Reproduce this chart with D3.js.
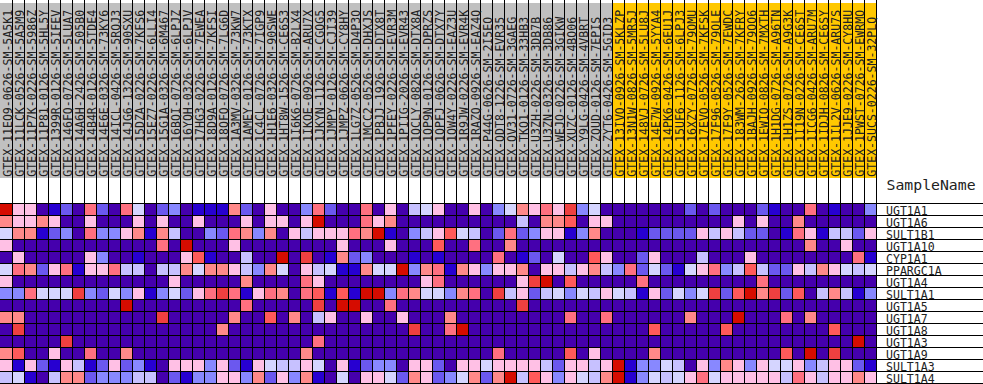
<!DOCTYPE html>
<html>
<head>
<meta charset="utf-8">
<script src="https://cdn.jsdelivr.net/npm/d3@7"></script>
<style>
  html, body { margin: 0; padding: 0; background: #fff; }
  svg { display: block; }
  text { font-family: "DejaVu Sans Mono", monospace; fill: #222; }
</style>
</head>
<body>
<div id="chart"></div>
<script>
const width = 983, height = 384;

const sampleNames = [
  "GTEX-11EQ9-0626-SM-5A5K1", "GTEX-11LCK-0526-SM-5A5M9", "GTEX-11P7K-0226-SM-5986Z", "GTEX-11P81-0126-SM-5HL5Y",
  "GTEX-1399R-0126-SM-5IFEV", "GTEX-146FQ-0726-SM-5LUA7", "GTEX-14A6H-2426-SM-505B0", "GTEX-14B4R-0126-SM-5TDE4",
  "GTEX-14E6E-0326-SM-73KY6", "GTEX-14ICL-0426-SM-5RQJ3", "GTEX-14JG6-1326-SM-90SXU", "GTEX-15DZA-0226-SM-7KFS6",
  "GTEX-15EZ7-0226-SM-6LLI4", "GTEX-15G1A-0326-SM-6M467", "GTEX-16BQI-0726-SM-6LPJZ", "GTEX-16YQH-0326-SM-6LPJV",
  "GTEX-17HG3-0226-SM-7EWEA", "GTEX-18D9A-0126-SM-7KFSI", "GTEX-18QFQ-0726-SM-7LG6D", "GTEX-1A3MV-0326-SM-73KW7",
  "GTEX-1AMEY-0126-SM-73KTX", "GTEX-1C4CL-0726-SM-7IGP9", "GTEX-1H1E6-0326-SM-90SWE", "GTEX-1HT8W-1526-SM-CE6S3",
  "GTEX-1I6K6-0726-SM-B2LX4", "GTEX-1IKOE-0926-SM-ARU7X", "GTEX-1JKYN-1126-SM-CGQG5", "GTEX-1JMPY-0126-SM-CJI39",
  "GTEX-1JMPZ-0626-SM-CY8HY", "GTEX-1LG7Z-0526-SM-D4P3O", "GTEX-1MCC2-0526-SM-DHXJS", "GTEX-1PBJJ-1926-SM-DTX8T",
  "GTEX-1PFEY-0226-SM-EVR3M", "GTEX-1PIIG-2026-SM-EVR43", "GTEX-1QCLY-0826-SM-DTX8A", "GTEX-1QP9N-0126-SM-DPRZS",
  "GTEX-1QPFJ-0626-SM-DTX7Y", "GTEX-1QW4Y-0226-SM-EAZ3U", "GTEX-1R9JW-0226-SM-EVR4K", "GTEX-1RAZQ-0926-SM-EAZ4Q",
  "GTEX-P44G-0626-SM-2I5EO", "GTEX-QDT8-1226-SM-EVR35", "GTEX-QV31-0726-SM-3GAEG", "GTEX-TKQ1-0126-SM-33HB3",
  "GTEX-U3ZH-0226-SM-3DB7B", "GTEX-U3ZN-0326-SM-3DB86", "GTEX-WEJO-0226-SM-3GIKW", "GTEX-XUZC-0126-SM-4BO06",
  "GTEX-Y9LG-0426-SM-4VBRT", "GTEX-ZQUD-0126-SM-7EPIS", "GTEX-ZYT6-0426-SM-5GID3",
  "GTEX-13IVO-0926-SM-5KLZP", "GTEX-13N1W-0826-SM-5MR5J", "GTEX-148VJ-0726-SM-5LU8J", "GTEX-14E7W-0926-SM-5YYA4",
  "GTEX-14PK6-0426-SM-6EU1J", "GTEX-15UF6-1126-SM-6LPJ3", "GTEX-16XZY-0726-SM-79OMU", "GTEX-17EVQ-0526-SM-7KFSK",
  "GTEX-17F96-0526-SM-79OLE", "GTEX-17F9Y-0526-SM-7EWDC", "GTEX-183WM-2626-SM-7KFRY", "GTEX-1BAJH-0926-SM-79OO6",
  "GTEX-1EWIQ-0826-SM-7MXTH", "GTEX-1H1DG-0726-SM-A96TN", "GTEX-1H1ZS-0726-SM-A9G3K", "GTEX-1I19N-0226-SM-CE6ST",
  "GTEX-1ICG6-0426-SM-ARU7M", "GTEX-1IDJH-0826-SM-CE6SY", "GTEX-1IL2V-0626-SM-ARU7S", "GTEX-1JJE9-0226-SM-CY8HU",
  "GTEX-1PWST-0726-SM-EWRMO", "GTEX-SUCS-0226-SM-32PLQ"
];
// first 51 samples are one class (grey), the rest the other (gold)
const classACount = 51;

const geneNames = ["UGT1A1", "UGT1A6", "SULT1B1", "UGT1A10", "CYP1A1", "PPARGC1A", "UGT1A4", "SULT1A1",
  "UGT1A5", "UGT1A7", "UGT1A8", "UGT1A3", "UGT1A9", "SULT1A3", "SULT1A4"];

// colour level of each cell, 0 (lowest, indigo) .. 11 (highest, red)
const levelsUGT1A1 = [11,6,6,0,1,2,0,8,2,0,8,5,0,2,3,0,1,1,1,7,2, 0,6,0,0,3,8,2,0,0,8,0,6,0,4,5,6,0,0,6,0, 3,5,7,6,8,6,10,3,5,0,0,0,0,0,0,0,2,0,2,0, 0,0,2,1,0,0,8,0,1,0,0,3];
const levelsUGT1A6 = [7,6,6,7,6,0,0,6,0,0,0,6,0,6,0,0,6,0,0,0,6, 0,6,6,0,6,11,0,0,0,8,6,7,0,0,0,0,0,0,0,0, 0,0,4,0,7,7,9,0,6,6,0,0,0,0,0,0,0,0,0,0, 6,0,6,0,0,7,0,0,0,0,0,0];
const levelsSULT1B1 = [5,7,7,1,2,3,0,8,3,3,6,7,1,7,4,0,0,3,2,8,7, 3,7,0,6,4,6,6,6,8,7,11,1,0,3,4,6,9,5,4,0, 2,8,2,3,6,6,1,3,7,0,0,0,1,2,2,2,2,6,4,6, 4,2,2,0,1,8,6,1,4,4,2,6];
const levelsUGT1A10 = [6,0,0,0,0,0,0,0,0,0,0,0,0,8,0,11,0,0,0,6,0, 0,0,0,0,0,0,0,6,0,0,0,6,0,0,0,9,0,0,8,0, 0,7,0,0,0,0,0,0,0,0,0,0,0,0,0,0,0,0,0,0, 0,0,0,0,0,0,7,0,0,6,0,0];
const levelsCYP1A1 = [0,6,0,0,0,0,0,6,3,0,0,1,0,0,0,6,9,1,0,0,4, 0,0,11,0,10,0,1,7,2,3,0,0,0,1,0,1,0,0,0,0, 8,0,1,2,0,5,0,0,9,6,0,0,2,6,0,0,0,4,0,0, 0,6,0,0,0,0,0,0,0,0,8,1];
const levelsPPARGC1A = [5,8,7,2,6,8,1,6,6,8,4,4,0,4,4,7,5,7,7,6,4, 3,7,5,0,6,4,5,1,1,7,5,5,11,3,7,8,1,7,6,3, 6,6,7,0,6,6,4,6,7,4,3,8,2,5,2,1,5,6,8,3, 4,9,4,2,2,6,4,7,6,5,4,5];
const levelsUGT1A4 = [6,0,0,0,0,0,0,0,0,0,0,0,0,0,6,0,0,0,0,0,7, 0,0,0,0,8,6,0,0,0,0,0,0,0,0,6,8,0,0,0,0, 0,0,6,10,11,0,9,0,0,0,0,0,8,0,0,0,0,0,0,0, 0,0,8,0,0,0,0,0,0,0,0,0];
const levelsSULT1A1 = [3,3,8,5,5,5,10,3,2,5,3,6,1,3,5,2,6,8,10,8,1, 6,8,7,0,8,9,1,9,1,11,11,3,8,7,5,5,3,7,8,0, 10,4,6,2,4,5,3,5,4,6,5,4,1,6,2,5,3,5,10,2, 9,11,7,10,2,9,0,4,7,4,1,3];
const levelsUGT1A5 = [0,0,0,0,0,0,0,0,0,0,11,0,0,0,0,0,0,0,0,0,8, 0,0,0,0,0,10,0,11,11,0,0,8,0,0,0,0,0,0,0,0, 0,0,10,0,0,0,0,0,0,0,0,0,0,0,0,0,0,0,0,0, 0,0,0,0,0,0,0,0,0,0,0,0];
const levelsUGT1A7 = [7,7,0,0,0,0,0,0,0,0,0,0,0,10,0,0,0,0,0,7,0, 0,9,0,7,0,4,6,0,0,6,0,0,6,0,0,0,7,0,0,0, 0,0,0,0,0,0,8,0,0,8,0,0,0,0,0,0,7,0,0,0, 11,0,0,0,8,0,7,0,0,0,0,0];
const levelsUGT1A8 = [0,10,0,0,0,0,0,0,0,0,0,0,0,0,0,0,0,0,7,0,0, 0,0,0,0,0,0,0,0,0,0,0,0,0,10,0,0,8,11,0,0, 0,0,0,0,0,0,0,0,0,0,0,0,0,9,0,0,0,0,0,9, 0,0,0,0,0,0,0,0,9,0,0,0];
const levelsUGT1A3 = [0,0,0,0,0,10,0,0,0,0,0,0,0,0,0,0,0,0,0,0,0, 0,0,0,0,0,8,0,0,0,0,0,0,0,0,0,0,0,0,0,0, 0,0,0,0,0,0,0,0,0,0,0,0,0,0,0,0,0,0,0,0, 0,0,0,0,0,0,0,0,0,0,11,0];
const levelsUGT1A9 = [7,9,0,0,6,0,0,8,0,0,7,0,0,0,0,0,0,0,0,0,0, 0,0,0,0,7,0,0,0,0,0,0,0,0,0,0,0,0,0,0,0, 8,0,0,0,0,0,9,0,6,0,0,0,0,7,0,0,0,0,0,0, 0,0,0,0,9,0,11,0,10,0,0,0];
const levelsSULT1A3 = [6,1,6,2,1,6,4,1,2,6,2,3,1,0,6,6,6,3,6,2,1, 6,5,4,4,6,5,0,6,1,2,3,3,0,6,6,2,0,6,6,5, 6,6,6,6,4,2,6,6,4,6,11,1,3,3,5,4,0,6,3,7, 6,3,6,5,5,6,3,4,6,6,2,1];
const levelsSULT1A4 = [4,5,1,0,4,7,7,2,3,3,3,4,4,0,2,1,3,3,6,6,3, 7,2,6,3,7,1,0,5,0,6,6,5,2,7,6,2,3,5,7,2, 7,11,4,9,6,3,6,5,4,7,11,1,3,5,4,5,6,8,5,6, 6,6,6,6,4,8,6,4,6,6,7,6];

const matrix = [levelsUGT1A1, levelsUGT1A6, levelsSULT1B1, levelsUGT1A10, levelsCYP1A1, levelsPPARGC1A, levelsUGT1A4,
  levelsSULT1A1, levelsUGT1A5, levelsUGT1A7, levelsUGT1A8, levelsUGT1A3, levelsUGT1A9, levelsSULT1A3, levelsSULT1A4];

const palette = ["#4500ad", "#2700d1", "#6b58ef", "#8888ff", "#c7c1ff", "#d5d5ff",
  "#ffc0e5", "#ff8989", "#ff7080", "#ff5a5a", "#ef4040", "#d60c00"];

const labelFont = 11.55;
const labelStretch = 1.07; // reference glyphs are a bit taller than DejaVu at this pitch

const x = d3.scaleBand().domain(d3.range(sampleNames.length)).range([0, 876]);
const y = d3.scaleBand().domain(geneNames).range([203, 383]);
const color = d3.scaleOrdinal().domain(d3.range(palette.length)).range(palette);

const svg = d3.select("#chart").append("svg")
  .attr("width", width)
  .attr("height", height);

// sample name band on top
svg.append("g")
  .selectAll("rect")
  .data(sampleNames)
  .join("rect")
  .attr("x", (d, i) => x(i))
  .attr("y", 3)
  .attr("width", x.bandwidth())
  .attr("height", 175)
  .attr("fill", (d, i) => (i < classACount ? "#c0c0c0" : "#ffc800"));

// heatmap cells
svg.append("g")
  .selectAll("g")
  .data(matrix)
  .join("g")
  .attr("transform", (d, i) => `translate(0,${y(geneNames[i])})`)
  .selectAll("rect")
  .data((d) => d)
  .join("rect")
  .attr("x", (d, i) => x(i))
  .attr("width", x.bandwidth())
  .attr("height", y.bandwidth())
  .attr("fill", (d) => color(d))
  .attr("shape-rendering", "crispEdges");

// grid
const grid = svg.append("g").attr("stroke", "#000").attr("stroke-width", 1);
grid.selectAll("line.col")
  .data(sampleNames)
  .join("line")
  .attr("class", "col")
  .attr("x1", (d, i) => x(i) + x.bandwidth() + 0.5)
  .attr("x2", (d, i) => x(i) + x.bandwidth() + 0.5)
  .attr("y1", 0)
  .attr("y2", 383);
grid.selectAll("line.row")
  .data(geneNames.concat(["end"]))
  .join("line")
  .attr("class", "row")
  .attr("x1", 0)
  .attr("x2", width)
  .attr("y1", (d, i) => 203.5 + i * y.bandwidth())
  .attr("y2", (d, i) => 203.5 + i * y.bandwidth());

// sample labels
svg.append("g")
  .selectAll("text")
  .data(sampleNames)
  .join("text")
  .attr("transform", (d, i) => `translate(${x(i) + 11.5},176.7) rotate(-90) scale(1,${labelStretch})`)
  .attr("font-size", labelFont)
  .text((d) => d);

// gene labels
svg.append("g")
  .selectAll("text")
  .data(geneNames)
  .join("text")
  .attr("transform", (d) => `translate(886,${y(d) + 12}) scale(1,${labelStretch})`)
  .attr("font-size", labelFont)
  .text((d) => d);

svg.append("text")
  .attr("x", 886.5)
  .attr("y", 190)
  .attr("font-size", 14.8)
  .text("SampleName");
</script>
</body>
</html>
